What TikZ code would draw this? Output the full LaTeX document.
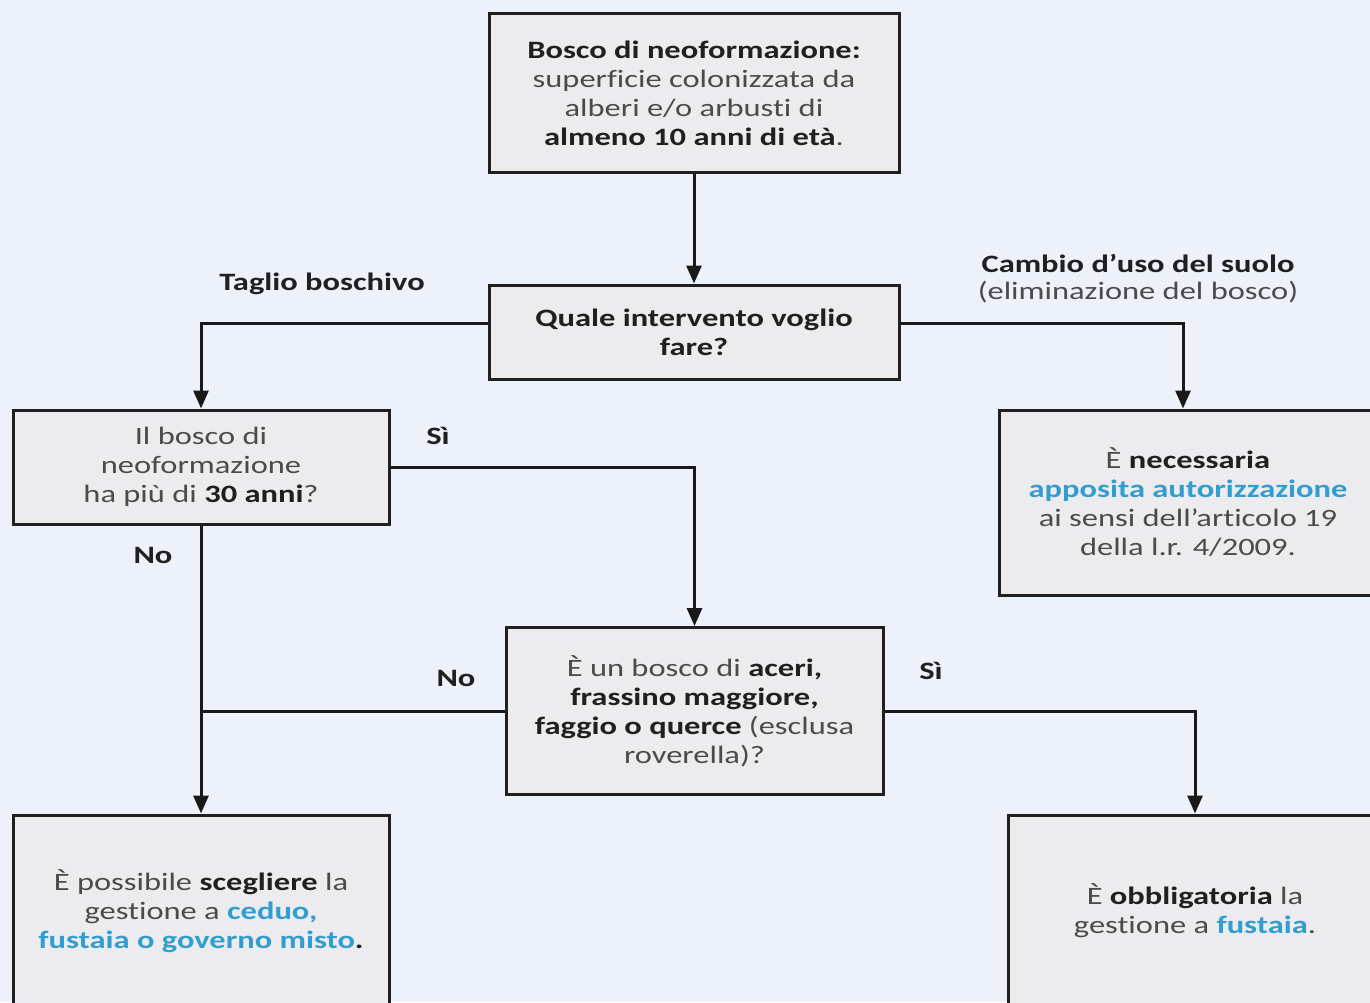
\documentclass[tikz,border=0pt]{standalone}
\usepackage{fontspec}
\setmainfont{Carlito}[FakeStretch=1.3,Ligatures=NoCommon]
\usetikzlibrary{arrows.meta}
\definecolor{bg}{RGB}{237,242,250}
\definecolor{boxfill}{RGB}{236,236,239}
\definecolor{txt}{RGB}{75,75,75}
\definecolor{dark}{RGB}{32,32,32}
\definecolor{blu}{RGB}{50,158,208}
\newcommand{\bb}[1]{\textbf{\color{dark}#1}}
\newcommand{\bl}[1]{\textbf{\color{blu}#1}}
\tikzset{
  box/.style={draw=dark, line width=1.5pt, fill=boxfill, align=center, text=txt,
    font=\fontsize{12.5}{14.5}\selectfont, inner sep=0pt},
  lab/.style={font=\fontsize{12.5}{14.5}\selectfont\bfseries, text=dark},
  sublab/.style={font=\fontsize{12.5}{14.5}\selectfont, text=txt},
  arr/.style={line width=1.5pt, draw=black!90, -{Triangle[width=7.5pt,length=9pt]}},
  conn/.style={line width=1.5pt, draw=black!90}
}
\begin{document}
\begin{tikzpicture}[x=0.5pt,y=-0.5pt]
\useasboundingbox (0,0) rectangle (1370,1002);
\clip (0,0) rectangle (1370,1002);
\fill[bg] (0,0) rectangle (1370,1002);

\node[box, minimum width=205pt, minimum height=79.5pt] (b1) at (694,93)
  {\bb{Bosco di neoformazione:}\\superficie colonizzata da\\alberi e/o arbusti di\\\bb{almeno 10 anni di età}.};
\node[box, minimum width=205pt, minimum height=47pt] (b2) at (694,332)
  {\bb{Quale intervento voglio}\\\bb{fare?}};
\node[box, minimum width=188pt, minimum height=57pt] (b3) at (201,467)
  {Il bosco di\\neoformazione\\ha più di \bb{30 anni}?};
\node[box, minimum width=189pt, minimum height=92.5pt] (b4) at (1188,502.5)
  {È \bb{necessaria}\\\bl{apposita autorizzazione}\\ai sensi dell’articolo 19\\della l.r. 4/2009.};
\node[box, minimum width=188.5pt, minimum height=83.5pt] (b5) at (694.5,711)
  {È un bosco di \bb{aceri,}\\\bb{frassino maggiore,}\\\bb{faggio o querce} (esclusa\\roverella)?};
\node[box, minimum width=188pt, minimum height=96pt] (b6) at (201,911)
  {È possibile \bb{scegliere} la\\gestione a \bl{ceduo,}\\\bl{fustaia o governo misto}\bb{.}};
\node[box, minimum width=187pt, minimum height=96pt] (b7) at (1195,911)
  {È \bb{obbligatoria} la\\gestione a \bl{fustaia}.};

\draw[arr] (b1.south) -- (b2.north);
\draw[arr] ([yshift=4.5pt]b2.west) -| (b3.north);
\draw[arr] ([yshift=4.5pt]b2.east) -| ([xshift=-2.5pt]b4.north);
\draw[arr] (b3.east) -| (b5.north);
\draw[arr] (b3.south) -- (b6.north);
\draw[conn] (b5.west) -- (b5.west -| b3.south);
\draw[arr] (b5.east) -| (b7.north);

\node[lab] (l1) at (322,284) {Taglio boschivo};
\node[lab] (l2) at (1138,263) {Cambio d’uso del suolo};
\node[sublab] (l3) at (1138,292) {(eliminazione del bosco)};
\node[lab] (l4) at (438,436) {Sì};
\node[lab] (l5) at (153,555) {No};
\node[lab] (l6) at (456,678) {No};
\node[lab] (l7) at (931,671) {Sì};
\end{tikzpicture}
\end{document}
